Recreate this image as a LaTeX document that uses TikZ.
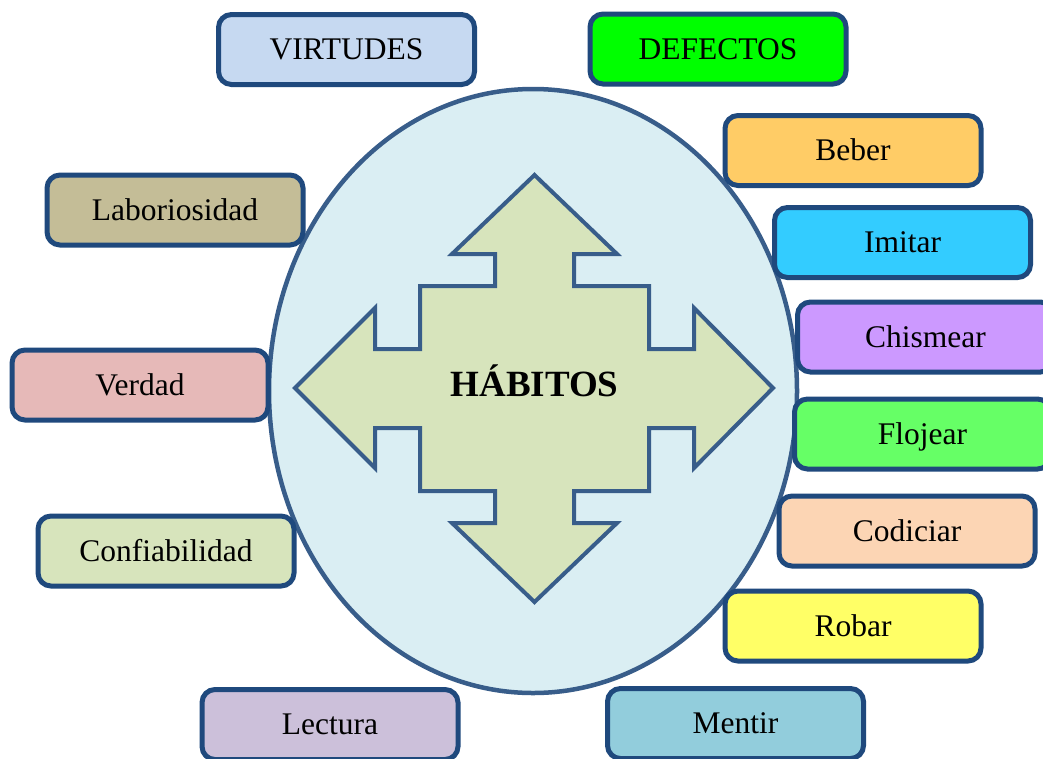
\documentclass[tikz,border=0pt]{standalone}
\usepackage{fontspec}
\setmainfont{Liberation Serif}
\begin{document}
\definecolor{boxline}{HTML}{1F497D}
\definecolor{shapeline}{HTML}{385D8A}
\definecolor{ovalfill}{HTML}{DAEEF3}
\definecolor{crossfill}{HTML}{D7E4BC}
\definecolor{cVirtudes}{HTML}{C6D9F1}
\definecolor{cDefectos}{HTML}{00FF00}
\definecolor{cLabor}{HTML}{C4BD97}
\definecolor{cVerdad}{HTML}{E6B9B8}
\definecolor{cConfia}{HTML}{D7E4BC}
\definecolor{cLectura}{HTML}{CCC0DA}
\definecolor{cBeber}{HTML}{FFCC66}
\definecolor{cImitar}{HTML}{33CCFF}
\definecolor{cChismear}{HTML}{CC99FF}
\definecolor{cFlojear}{HTML}{66FF66}
\definecolor{cCodiciar}{HTML}{FCD5B4}
\definecolor{cRobar}{HTML}{FFFF66}
\definecolor{cMentir}{HTML}{92CDDC}
\begin{tikzpicture}[x=1pt,y=-1pt,
  tag/.style={draw=boxline, line width=5pt, rounded corners=13pt,
    minimum width=256pt, minimum height=70pt, inner sep=0pt,
    text height=20.5pt, text depth=0pt,
    font=\fontsize{31.5}{36}\selectfont},
  oval/.style={draw=shapeline, line width=4.5pt, fill=ovalfill},
  cross/.style={draw=shapeline, line width=4pt, fill=crossfill, line join=miter}]
\useasboundingbox (0,0) rectangle (1043,758);
\clip (0,0) rectangle (1043,758);
\fill[white] (0,0) rectangle (1043,758);

% central oval
\draw[oval] (533,391) ellipse [x radius=264, y radius=302];

% four-way arrow
\draw[cross] (534.5,175) -- (617,254) -- (574,254) -- (574,286) -- (649,286)
  -- (649,349) -- (694,349) -- (694,308) -- (773,388) -- (694,468)
  -- (694,428) -- (649,428) -- (649,491) -- (574,491) -- (574,523)
  -- (617,523) -- (534.5,602) -- (452,523) -- (495,523) -- (495,491)
  -- (420,491) -- (420,428) -- (375,428) -- (375,468) -- (295,388)
  -- (375,308) -- (375,349) -- (420,349) -- (420,286) -- (495,286)
  -- (495,254) -- (452,254) -- cycle;
\node[text height=24.5pt, text depth=0pt, inner sep=0pt,
  font=\fontsize{37}{42}\selectfont\bfseries]
  (habitos) at (534.5,384.5) {HÁBITOS};

% headings
\node[tag, fill=cVirtudes] (virtudes) at (346.5,49.5) {VIRTUDES};
\node[tag, fill=cDefectos] (defectos) at (718,49) {DEFECTOS};

% virtues
\node[tag, fill=cLabor] (laboriosidad) at (175,210) {Laboriosidad};
\node[tag, fill=cVerdad] (verdad) at (140,385) {Verdad};
\node[tag, fill=cConfia] (confiabilidad) at (166,551) {Confiabilidad};
\node[tag, fill=cLectura] (lectura) at (330,724.5) {Lectura};

% defects
\node[tag, fill=cBeber] (beber) at (853,150.5) {Beber};
\node[tag, fill=cImitar] (imitar) at (902.5,242.5) {Imitar};
\node[tag, fill=cChismear] (chismear) at (925.5,337) {Chismear};
\node[tag, fill=cFlojear] (flojear) at (922.5,434) {Flojear};
\node[tag, fill=cCodiciar] (codiciar) at (907,531) {Codiciar};
\node[tag, fill=cRobar] (robar) at (853,626) {Robar};
\node[tag, fill=cMentir] (mentir) at (735.5,723.5) {Mentir};
\end{tikzpicture}
\end{document}
